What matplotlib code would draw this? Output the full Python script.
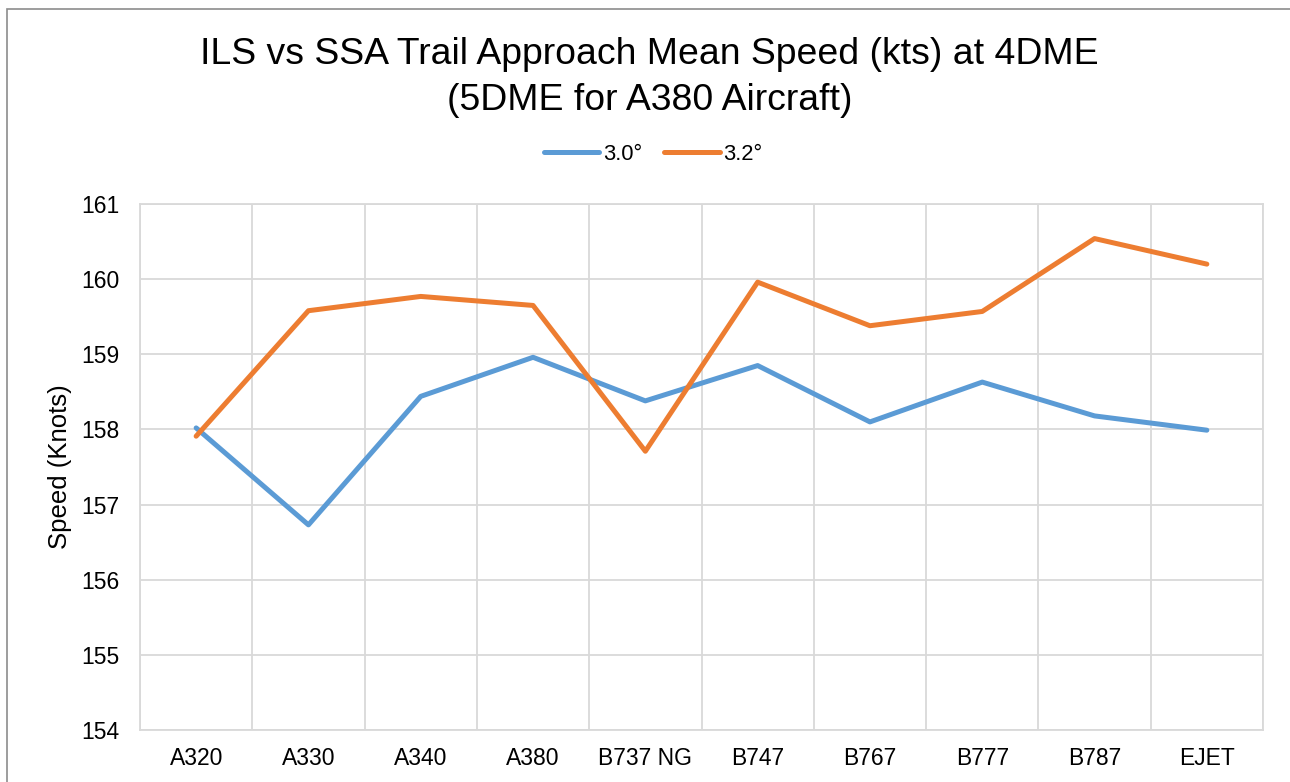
import matplotlib
matplotlib.use("Agg")
import matplotlib.pyplot as plt
from matplotlib.patches import Rectangle
import numpy as np

plt.rcParams['font.family'] = ['Liberation Sans', 'DejaVu Sans']

categories = ["A320", "A330", "A340", "A380", "B737 NG", "B747", "B767", "B777", "B787", "EJET"]
speed_30 = [158.02, 156.73, 158.44, 158.96, 158.38, 158.85, 158.10, 158.63, 158.18, 157.99]
speed_32 = [157.91, 159.58, 159.77, 159.65, 157.71, 159.96, 159.38, 159.57, 160.54, 160.20]
series_labels = ["3.0°", "3.2°"]
yticks = [154, 155, 156, 157, 158, 159, 160, 161]
title_lines = ["ILS vs SSA Trail Approach Mean Speed (kts) at 4DME", "(5DME for A380 Aircraft)"]

W, H = 1290, 782
fig = plt.figure(figsize=(W / 100, H / 100), dpi=100)
fig.patch.set_facecolor("white")

# outer chart border (extends beyond the image at right/bottom)
fig.patches.append(Rectangle((7 / W, -0.1), 1.2, 1 - 9 / H + 0.1, transform=fig.transFigure,
                             fill=False, edgecolor="#8c8c8c", linewidth=1.2, clip_on=False))

left, right, top, bottom = 140 / W, 1263 / W, 1 - 204 / H, 1 - 730 / H
ax = fig.add_axes([left, bottom, right - left, top - bottom])

x = np.arange(len(categories))
grid_c = "#D9D9D9"
ax.plot(x, speed_30, color="#5B9BD5", lw=3.6, solid_capstyle="round", solid_joinstyle="round",
        label=series_labels[0], zorder=3)
ax.plot(x, speed_32, color="#ED7D31", lw=3.6, solid_capstyle="round", solid_joinstyle="round",
        label=series_labels[1], zorder=3)

ax.set_xlim(-0.5, len(categories) - 0.5)
ax.set_ylim(154, 161)
ax.set_yticks(yticks)
ax.set_xticks(x)
ax.set_xticklabels(categories)
ax.set_xticks(np.arange(-0.5, len(categories), 1), minor=True)
ax.grid(True, which="major", axis="y", color=grid_c, lw=1.3, zorder=0)
ax.grid(True, which="minor", axis="x", color=grid_c, lw=1.3, zorder=0)
ax.tick_params(which="both", length=0)
ax.tick_params(axis="y", pad=15, labelsize=16.5)
ax.tick_params(axis="x", pad=12.5, labelsize=16.5)
for s in ax.spines.values():
    s.set_color(grid_c)
    s.set_linewidth(1.3)

ax.set_ylabel("Speed (Knots)", fontsize=18.5)
ax.yaxis.set_label_coords(-0.0605, 0.5)

fig.text(649 / W, 1 - 64 / H, title_lines[0], ha="center", va="baseline", fontsize=26.9)
fig.text(650 / W, 1 - 110 / H, title_lines[1], ha="center", va="baseline", fontsize=26.9)

leg = fig.legend(loc="center", bbox_to_anchor=(653 / W, 1 - 154 / H), ncol=2, frameon=False,
                 fontsize=15.8, handlelength=2.55, handletextpad=0.15, columnspacing=1.0,
                 borderaxespad=0)

fig.savefig("out.png", dpi=100)
